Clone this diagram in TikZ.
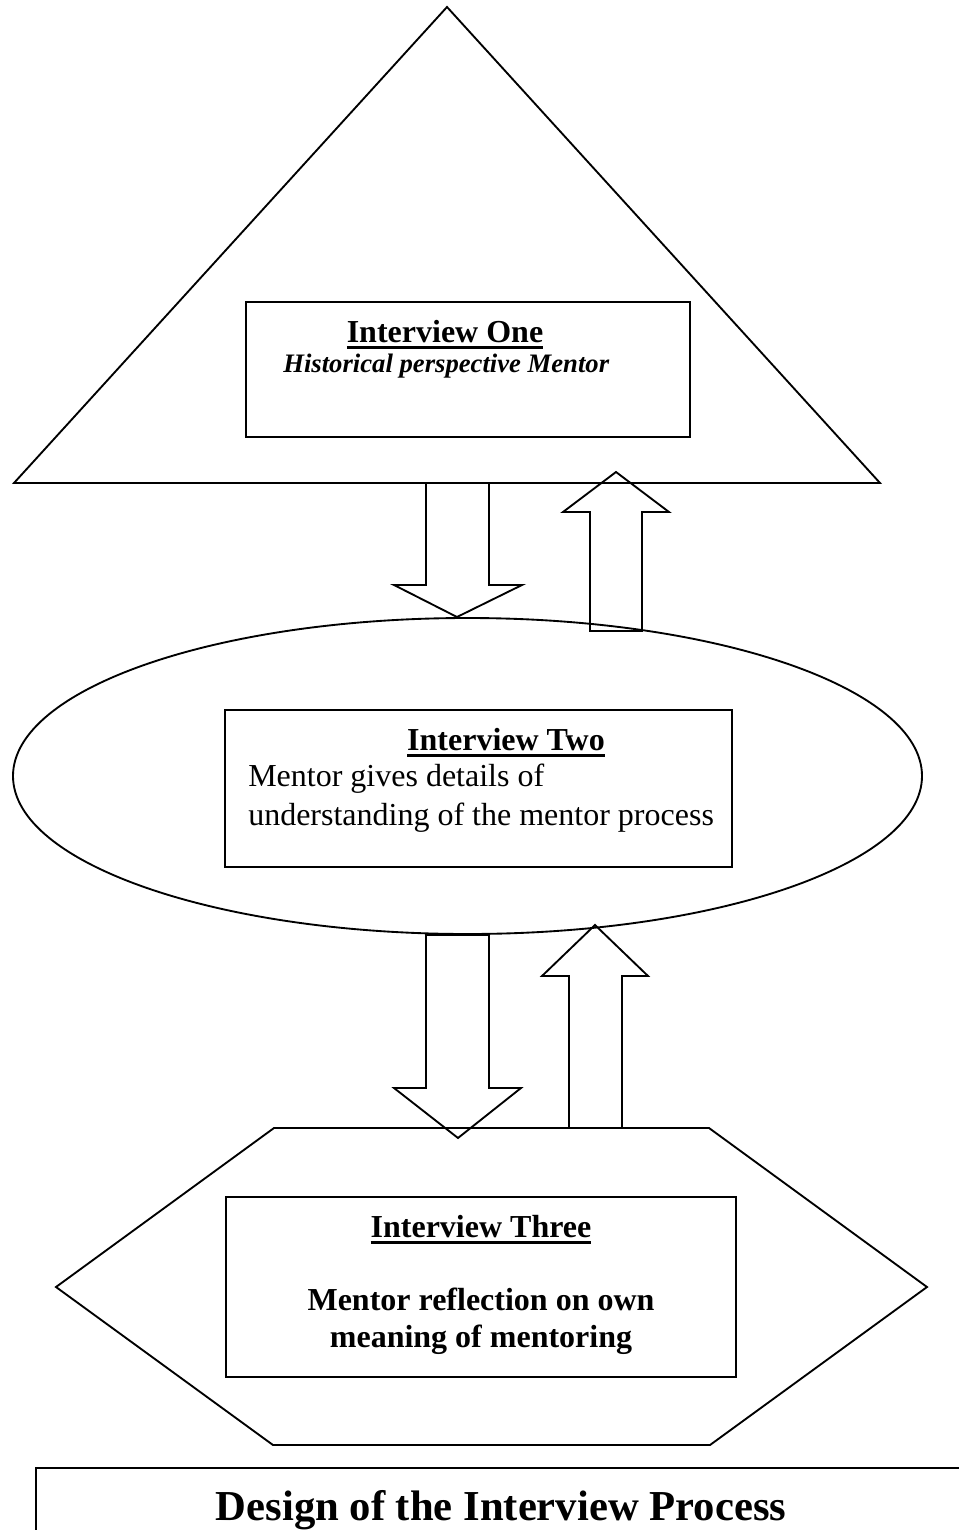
\documentclass[tikz,border=0pt]{standalone}
\usepackage{fontspec}
\setmainfont{Liberation Serif}
\usepackage{tikz}

\newcommand{\thickul}[1]{\sbox0{#1}\rlap{\usebox0}\rule[-5.2pt]{\wd0}{2.3pt}}

\begin{document}
\begin{tikzpicture}[x=0.75pt,y=0.75pt,yscale=-1,xscale=1,
  shp/.style={line width=1.4pt,line join=miter},
  lbl/.style={inner sep=0.75pt},
  big/.style={font=\fontsize{24}{28}\selectfont}]
%set diagram left start at 0, and has height of 1530
\path[use as bounding box] (0,0) rectangle (959,1530);
\clip (0,0) rectangle (959,1530);

%Shape: Triangle
\draw [shp]  (447,7) -- (880,483) -- (14,483) -- cycle ;
%Shape: Rectangle
\draw [line width=1.2pt]  (246,302) rectangle (690,437) ;
%Shape: Down Arrow
\draw [shp]  (426,483) -- (426,585) -- (394,585) -- (457,617) -- (522,585) -- (489,585) -- (489,483) -- cycle ;
%Shape: Up Arrow
\draw [shp]  (590,631) -- (590,512) -- (563,512) -- (616,472) -- (669,512) -- (642,512) -- (642,631) -- cycle ;
%Shape: Ellipse
\draw [shp]  (467.5,776) ellipse (454.5 and 158) ;
%Shape: Rectangle
\draw [line width=1.2pt]  (225,710) rectangle (732,867) ;
%Shape: Down Arrow
\draw [shp]  (426,935) -- (426,1088) -- (394,1088) -- (458,1138) -- (521,1088) -- (489,1088) -- (489,935) -- cycle ;
%Shape: Up Arrow
\draw [shp]  (569,1128) -- (569,976) -- (542,976) -- (595,925) -- (648,976) -- (622,976) -- (622,1128) -- cycle ;
%Shape: Hexagon
\draw [shp]  (274,1128) -- (709,1128) -- (927,1287) -- (710,1445) -- (273,1445) -- (56,1287) -- cycle ;
%Shape: Rectangle
\draw [line width=1.2pt]  (226,1197) rectangle (736,1377) ;
%Shape: Rectangle (title box, runs off the page)
\draw [line width=1.6pt]  (36,1468) rectangle (990,1560) ;

% Text Node
\draw (445,342) node (one) [anchor=base][lbl,big]  {\bfseries\thickul{Interview One}};
% Text Node
\draw (282,372) node (onesub) [anchor=base west][lbl]  {\fontsize{20}{24}\selectfont\bfseries\itshape Historical perspective Mentor};
% Text Node
\draw (506,750) node (two) [anchor=base][lbl,big]  {\bfseries\thickul{Interview Two}};
% Text Node
\draw (247,786) node (twosub) [anchor=base west][lbl,big]  {Mentor gives details of};
% Text Node
\draw (247,825) node (twosubb) [anchor=base west][lbl,big]  {understanding of the mentor process};
% Text Node
\draw (481,1237) node (three) [anchor=base][lbl,big]  {\bfseries\thickul{Interview Three}};
% Text Node
\draw (481,1310) node (threesub) [anchor=base][lbl,big]  {\bfseries Mentor reflection on own};
% Text Node
\draw (481,1347) node (threesubb) [anchor=base][lbl,big]  {\bfseries meaning of mentoring};
% Text Node
\draw (501,1520) node (design) [anchor=base][lbl]  {\fontsize{32}{38}\selectfont\bfseries Design of the Interview Process};
\end{tikzpicture}
\end{document}
